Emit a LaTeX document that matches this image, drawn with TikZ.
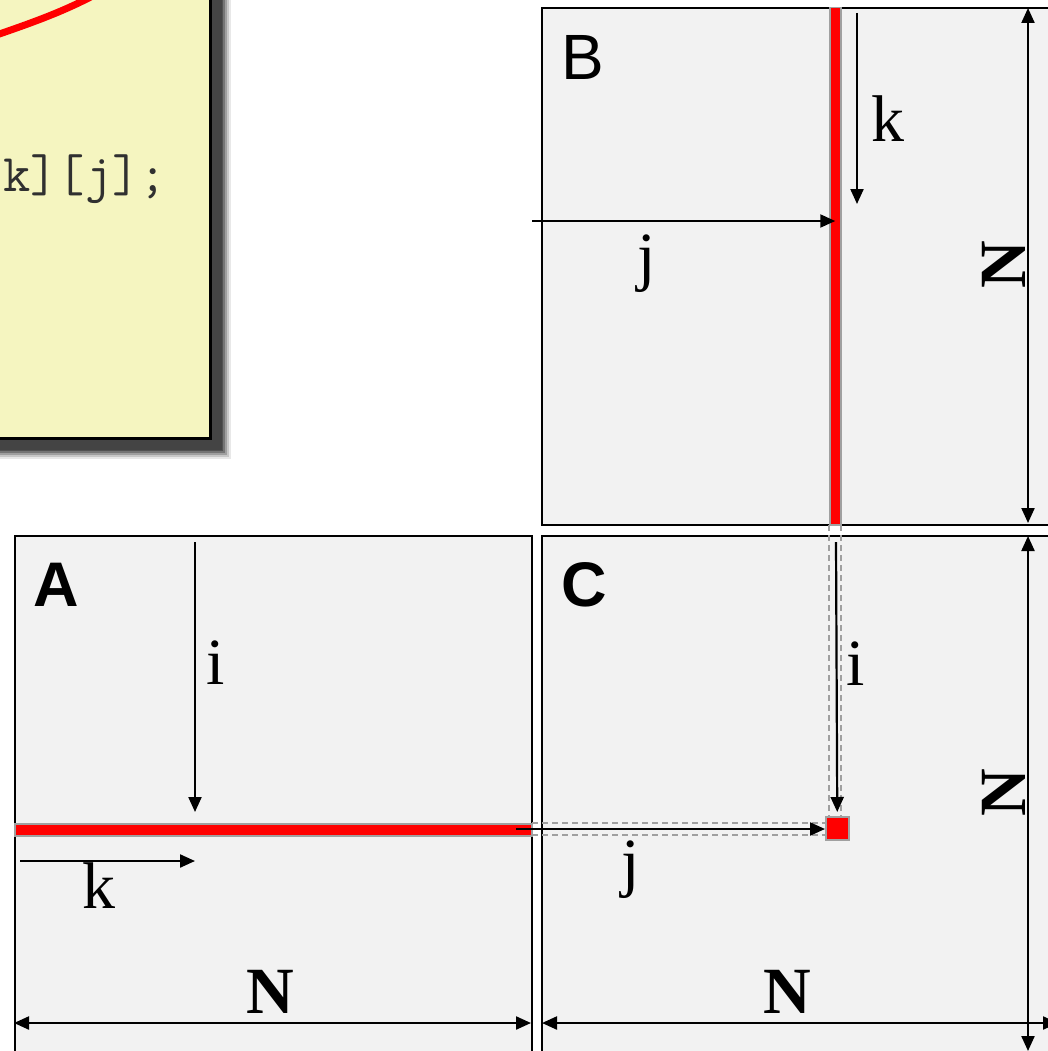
\documentclass[tikz,border=0pt]{standalone}
\usepackage{fontspec}
\setmainfont{Liberation Serif}
\newfontfamily\sansf{Liberation Sans}
\usetikzlibrary{arrows.meta}
\definecolor{matfill}{HTML}{F2F2F2}
\definecolor{codefill}{HTML}{F5F5C0}
\definecolor{barborder}{HTML}{A0A0A0}
\definecolor{shadowc}{HTML}{444444}
\definecolor{codetext}{HTML}{303030}
\begin{document}
\begin{tikzpicture}[x=1pt,y=-1pt,
  matrixbox/.style={draw=black,line width=1.8pt,fill=matfill,inner sep=0pt,
    minimum width=517pt,minimum height=517pt,anchor=north west},
  redbar/.style={draw=barborder,line width=1.5pt,fill=red,inner sep=0pt,anchor=north west},
  idxarrow/.style={line width=2.2pt,-{Triangle[length=15pt,width=13pt]}},
  dimarrow/.style={line width=2.2pt,{Triangle[length=15pt,width=13pt]}-{Triangle[length=15pt,width=13pt]}},
  guide/.style={draw=barborder,line width=1.5pt,dash pattern=on 6pt off 4pt},
  idxlabel/.style={font=\fontsize{66}{66}\selectfont,inner sep=0pt,anchor=base},
  dimlabel/.style={font=\bfseries\fontsize{66}{66}\selectfont,inner sep=0pt,anchor=base},
  sanslabel/.style={font=\sansf\fontsize{64}{64}\selectfont,inner sep=0pt,anchor=base},
  sansbold/.style={font=\sansf\bfseries\fontsize{63}{63}\selectfont,inner sep=0pt,anchor=base}
]
\useasboundingbox (0,0) rectangle (1048,1051);
\fill[white] (0,0) rectangle (1048,1051);
\begin{scope}
\clip (0,0) rectangle (1048,1051);
% code box with shadow
\foreach \d/\o in {9/0.12,7/0.2,5/0.3,3/0.45,1/0.7}{
  \fill[shadowc,opacity=\o] (-30,-30) rectangle (222+\d,450+\d);
}
\fill[shadowc] (-30,-30) rectangle (222,450);
\node[draw=black,line width=3pt,fill=codefill,inner sep=0pt,anchor=south east,
  minimum width=250pt,minimum height=470pt] (codebox) at (212,440) {};
\draw[red,line width=7pt] (-12,38) .. controls (25,25) and (62,13) .. (100,-8);
\node[font=\ttfamily\fontsize{53}{53}\selectfont,text=codetext,anchor=base west,inner sep=0pt]
  (code) at (3,192) {k][j];};

% matrices
\node[matrixbox] (B) at (541,7) {};
\node[matrixbox] (A) at (14,535) {};
\node[matrixbox] (C) at (541,535) {};

% dashed guides
\draw[guide] (829,525) -- (829,816);
\draw[guide] (841,525) -- (841,816);
\draw[guide] (532,823) -- (825,823);
\draw[guide] (532,835) -- (825,835);

% red bars and element
\node[redbar,minimum width=11pt,minimum height=517pt] (Bbar) at (829,7) {};
\node[redbar,minimum width=517pt,minimum height=12pt] (Abar) at (14,823) {};
\node[redbar,minimum width=23pt,minimum height=23pt] (Cel) at (825,816) {};

% labels
\node[sanslabel] (Blab) at (583,80) {B};
\node[sansbold] (Alab) at (56,606) {A};
\node[sansbold] (Clab) at (584,606) {C};

% B arrows
\coordinate (Bj0) at (532,221);
\draw[idxarrow] (Bj0) -- (Bbar.center |- Bj0);
\coordinate (Bk0) at (857,13);
\coordinate (Bk1) at (857,204);
\draw[idxarrow] (Bk0) -- (Bk1);
\node[idxlabel] (Bk) at (888,142) {k};
\node[idxlabel] (Bj) at (647,278) {j};
\coordinate (Bz0) at (1028,8);
\coordinate (Bz1) at (1028,523);
\draw[dimarrow] (Bz0) -- (Bz1);
\node[dimlabel,rotate=90] (BN) at (1025,265) {N};

% A arrows
\coordinate (Ai0) at (195,542);
\coordinate (Ai1) at (195,812);
\draw[idxarrow] (Ai0) -- (Ai1);
\node[idxlabel] (Ai) at (216,684) {i};
\coordinate (Ak0) at (20,861);
\coordinate (Ak1) at (195,861);
\draw[idxarrow] (Ak0) -- (Ak1);
\node[idxlabel] (Ak) at (99,908) {k};
\coordinate (An0) at (14,1023);
\coordinate (An1) at (531,1023);
\draw[dimarrow] (An0) -- (An1);
\node[dimlabel] (AN) at (270,1013) {N};

% C arrows
\coordinate (Ci0) at (836,542);
\draw[idxarrow] (Ci0) -- (Cel.north |- 0,812);
\node[idxlabel] (Ci) at (856,685) {i};
\coordinate (Cj0) at (516,829);
\draw[idxarrow] (Cj0) -- (Cel.west |- Cj0) ;
\node[idxlabel] (Cj) at (631,884) {j};
\coordinate (Cn0) at (542,1023);
\coordinate (Cn1) at (1058,1023);
\draw[dimarrow] (Cn0) -- (Cn1);
\node[dimlabel] (CN) at (787,1013) {N};
\coordinate (Cz0) at (1028,536);
\coordinate (Cz1) at (1028,1051);
\draw[dimarrow] (Cz0) -- (Cz1);
\node[dimlabel,rotate=90] (CNr) at (1025,793) {N};
\end{scope}
\end{tikzpicture}
\end{document}
